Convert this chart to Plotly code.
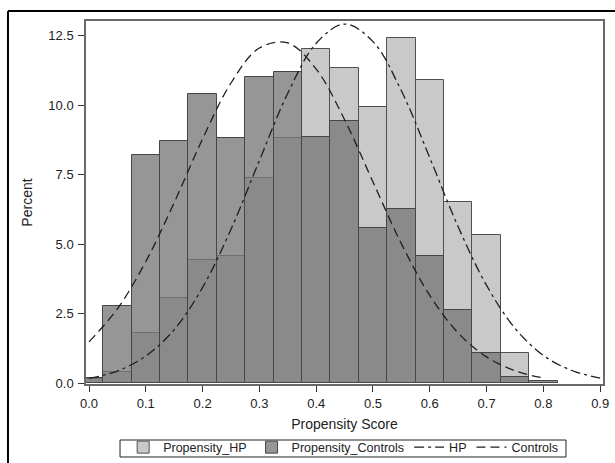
import plotly.graph_objects as go

# ---- data ----
bin_centers = [0.0, 0.05, 0.1, 0.15, 0.2, 0.25, 0.3, 0.35, 0.4, 0.45, 0.5, 0.55, 0.6, 0.65, 0.7, 0.75, 0.8]
hp_pct = [0.15, 0.40, 1.80, 3.08, 4.45, 4.59, 7.37, 8.81, 12.01, 11.33, 9.95, 12.43, 10.91, 6.52, 5.35, 1.08, 0.0]
ctrl_pct = [0.20, 2.78, 8.21, 8.72, 10.41, 8.82, 11.02, 11.20, 8.87, 9.44, 5.60, 6.26, 4.59, 2.62, 1.10, 0.24, 0.08]

hp_curve_x = [0.0, 0.05, 0.1, 0.15, 0.2, 0.25, 0.3, 0.35, 0.4, 0.45, 0.5, 0.55, 0.6, 0.65, 0.7, 0.75, 0.8, 0.85, 0.9]
hp_curve_y = [0.18, 0.44, 0.98, 1.93, 3.45, 5.54, 8.01, 10.43, 12.23, 12.92, 12.29, 10.52, 8.11, 5.63, 3.52, 1.98, 1.00, 0.46, 0.19]
ctrl_curve_x = [0.0, 0.05, 0.1, 0.15, 0.2, 0.25, 0.3, 0.35, 0.4, 0.45, 0.5, 0.55, 0.6, 0.65, 0.7, 0.75, 0.8]
ctrl_curve_y = [1.49, 2.68, 4.38, 6.50, 8.79, 10.80, 12.06, 12.24, 11.30, 9.48, 7.24, 5.02, 3.16, 1.81, 0.95, 0.45, 0.19]

x_ticks = [0.0, 0.1, 0.2, 0.3, 0.4, 0.5, 0.6, 0.7, 0.8, 0.9]
x_ticklabels = ["0.0", "0.1", "0.2", "0.3", "0.4", "0.5", "0.6", "0.7", "0.8", "0.9"]
y_ticks = [0.0, 2.5, 5.0, 7.5, 10.0, 12.5]
y_ticklabels = ["0.0", "2.5", "5.0", "7.5", "10.0", "12.5"]

FONT = "Arial, 'Liberation Sans', sans-serif"

fig = go.Figure()
fig.add_trace(go.Bar(
    x=bin_centers, y=hp_pct, width=0.05, name="Propensity_HP",
    marker=dict(color="rgb(201,201,201)", line=dict(color="rgb(80,80,80)", width=1)),
))
fig.add_trace(go.Bar(
    x=bin_centers, y=ctrl_pct, width=0.05, name="Propensity_Controls",
    marker=dict(color="rgba(120,120,120,0.78)", line=dict(color="rgb(70,70,70)", width=1)),
))
fig.add_trace(go.Scatter(
    x=hp_curve_x, y=hp_curve_y, mode="lines", name="HP",
    line=dict(color="rgb(30,30,30)", width=1.3, dash="10px,4px,3px,4px", shape="spline"),
))
fig.add_trace(go.Scatter(
    x=ctrl_curve_x, y=ctrl_curve_y, mode="lines", name="Controls",
    line=dict(color="rgb(30,30,30)", width=1.3, dash="9px,5px", shape="spline"),
))

fig.update_layout(
    width=615, height=463,
    margin=dict(l=86, r=12, t=21, b=79),
    barmode="overlay",
    bargap=0,
    plot_bgcolor="white", paper_bgcolor="white",
    font=dict(family=FONT, size=13, color="#222"),
    showlegend=True,
    legend=dict(
        orientation="h", x=0.558, xanchor="center", xref="container",
        y=1 - 432.5 / 463.0, yanchor="top", yref="container",
        borderwidth=0, bgcolor="rgba(0,0,0,0)",
        font=dict(family=FONT, size=12.5, color="#222"),
        itemwidth=30, tracegroupgap=0,
    ),
    xaxis=dict(
        range=[-0.0053, 0.905], tickvals=x_ticks, ticktext=x_ticklabels,
        ticks="outside", ticklen=6, tickcolor="#333", tickfont=dict(size=13),
        ticklabelstandoff=1,
        showline=True, linecolor="#6a6a6a", linewidth=1.5, mirror=True,
        showgrid=False, zeroline=False, automargin=False,
        title=dict(text="Propensity Score", font=dict(size=14), standoff=11),
    ),
    yaxis=dict(
        range=[-0.025, 13.03], tickvals=y_ticks, ticktext=y_ticklabels,
        ticks="outside", ticklen=6, tickcolor="#333", tickfont=dict(size=13),
        ticklabelstandoff=2,
        showline=True, linecolor="#6a6a6a", linewidth=1.5, mirror=True,
        showgrid=False, zeroline=False, automargin=False,
        title=dict(text="Percent", font=dict(size=14), standoff=12),
    ),
    shapes=[
        # outer chart frame (top and left edges visible)
        dict(type="line", xref="paper", yref="paper",
             x0=-0.1509, x1=1.0232, y0=1.0275, y1=1.0275,
             line=dict(color="black", width=2), layer="above"),
        dict(type="line", xref="paper", yref="paper",
             x0=-0.1509, x1=-0.1509, y0=-0.2176, y1=1.0275,
             line=dict(color="black", width=2), layer="above"),
        # legend frame
        dict(type="rect", xref="paper", yref="paper",
             x0=0.0658, x1=0.9284, y0=-0.2011, y1=-0.1543,
             line=dict(color="#222", width=1), fillcolor="white", layer="below"),
    ],
)

fig.write_html(
    "out.html",
    config={"displayModeBar": False},
    post_script=(
        "document.documentElement.style.overflow='hidden';"
        "document.body.style.margin='0';document.body.style.overflow='hidden';"
    ),
)
